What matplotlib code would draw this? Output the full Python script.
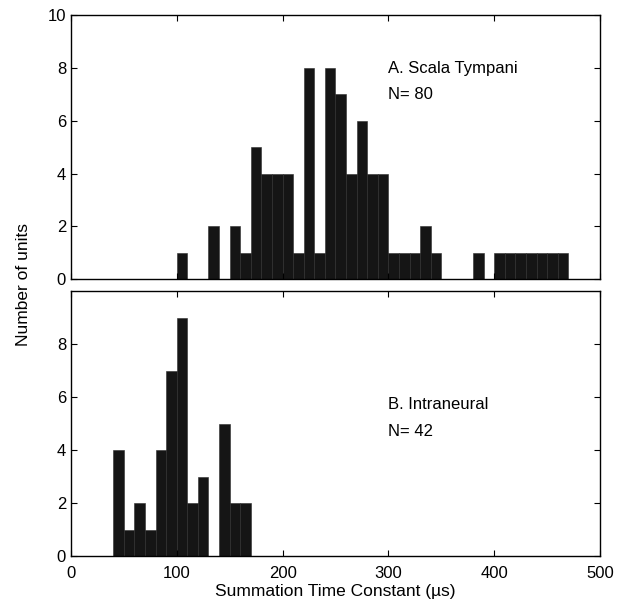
import numpy as np
import matplotlib.pyplot as plt

plt.rcParams['font.family'] = ['Liberation Sans', 'DejaVu Sans']
plt.rcParams['font.size'] = 12

# histogram bins are 10 us wide; values are the left edges
bin_width = 10
st_bins = [100, 130, 150, 160, 170, 180, 190, 200, 210, 220, 230, 240, 250,
           260, 270, 280, 290, 300, 310, 320, 330, 340, 380,
           400, 410, 420, 430, 440, 450, 460]
st_counts = [1, 2, 2, 1, 5, 4, 4, 4, 1, 8, 1, 8, 7,
             4, 6, 4, 4, 1, 1, 1, 2, 1, 1,
             1, 1, 1, 1, 1, 1, 1]

in_bins = [40, 50, 60, 70, 80, 90, 100, 110, 120, 140, 150, 160]
in_counts = [4, 1, 2, 1, 4, 7, 9, 2, 3, 5, 2, 2]

fig = plt.figure(figsize=(6.33, 6.12), dpi=100)
ax1 = fig.add_axes([0.112, 0.544, 0.836, 0.431])
ax2 = fig.add_axes([0.112, 0.0915, 0.836, 0.433])

bar_kw = dict(width=bin_width, align='edge', color='#151515',
              edgecolor='#2c2c2c', linewidth=0.4)
ax1.bar(st_bins, st_counts, **bar_kw)
ax2.bar(in_bins, in_counts, **bar_kw)

for ax in (ax1, ax2):
    ax.set_xlim(0, 500)
    ax.set_ylim(0, 10)
    ax.set_xticks(np.arange(0, 501, 100))
    ax.tick_params(direction='in', top=True, right=True, length=4, width=0.8,
                   labelsize=12)
    ax.tick_params(axis='x', pad=7)
    for s in ax.spines.values():
        s.set_linewidth(1.0)

ax1.set_yticks(np.arange(0, 11, 2))
ax1.set_xticklabels([])
ax2.set_yticks(np.arange(0, 9, 2))
ax2.set_xlabel('Summation Time Constant (µs)', fontsize=12.5, labelpad=2)

ax1.text(300, 8, 'A. Scala Tympani', va='center', fontsize=12)
ax1.text(300, 7, 'N= 80', va='center', fontsize=12)
ax2.text(300, 5.7, 'B. Intraneural', va='center', fontsize=12)
ax2.text(300, 4.7, 'N= 42', va='center', fontsize=12)

fig.text(0.037, 0.535, 'Number of units', rotation=90, va='center',
         ha='center', fontsize=12.5)

fig.savefig('out.png', dpi=100)
